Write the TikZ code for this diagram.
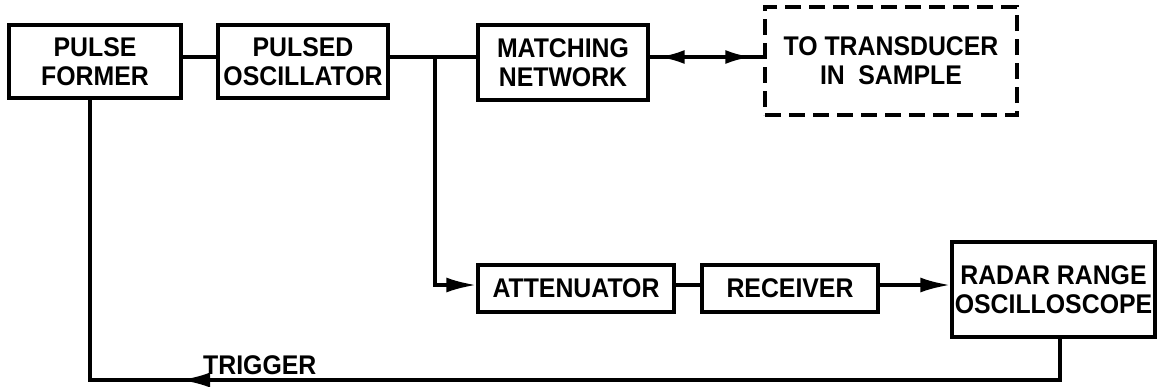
\documentclass[tikz,border=0pt]{standalone}
\usepackage{fontspec}
\setmainfont[FakeStretch=0.92]{Liberation Sans}
\usetikzlibrary{arrows.meta}
\tikzset{
  lbl/.style={font=\fontsize{27}{29}\selectfont\bfseries},
  blk/.style={draw, line width=3.4pt, inner sep=0pt, align=center, lbl},
  wire/.style={line width=3.4pt},
  tip/.style={-{Latex[length=30pt,width=15pt]}},
}
\begin{document}
\begin{tikzpicture}[x=1pt,y=-1pt]
\useasboundingbox (0,0) rectangle (1158,386);
% top row
\node[blk, minimum width=172pt, minimum height=73pt] (pf) at (95,61.5) {PULSE\\FORMER};
\node[blk, minimum width=170pt, minimum height=73pt] (po) at (303,61.5) {PULSED\\OSCILLATOR};
\node[blk, minimum width=170pt, minimum height=75pt] (mn) at (563,62.5) {MATCHING\\NETWORK};
\node[blk, dash pattern=on 16pt off 8pt, minimum width=252pt, minimum height=108pt] (td) at (891,61) {TO TRANSDUCER\\IN\enspace SAMPLE};
% bottom row
\node[blk, minimum width=196pt, minimum height=47pt] (at) at (576,288.5) {ATTENUATOR};
\node[blk, minimum width=176pt, minimum height=47pt] (rc) at (790,288.5) {RECEIVER};
\node[blk, minimum width=203pt, minimum height=95pt] (rr) at (1053.5,289.5) {RADAR RANGE\\OSCILLOSCOPE};
% routing levels
\coordinate (top) at (0,57);
\coordinate (low) at (0,285);
\coordinate (br) at (435,57);
\coordinate (fbR) at (1060,380);
\coordinate (fbL) at (90,380);
\coordinate (trig) at (180,380);
% connectors
\draw[wire] (pf.east |- top) -- (po.west |- top);
\draw[wire] (po.east |- top) -- (mn.west |- top);
\draw[wire] (mn.east |- top) -- (td.west |- top);
\draw[wire, {Latex[length=26pt,width=14pt]}-{Latex[length=26pt,width=14pt]}, shorten <=9pt, shorten >=12pt] (mn.east |- top) -- (td.west |- top);
\draw[wire, tip] (br) |- (at.west |- low);
\draw[wire] (at.east |- low) -- (rc.west |- low);
\draw[wire, tip] (rc.east |- low) -- (rr.west |- low);
\draw[wire] (rr.south -| fbR) -- (fbR) -- (fbL) -- (pf.south -| fbL);
\draw[wire, tip] (fbR) -- (trig);
\node[lbl, anchor=south west, inner sep=0pt] (trl) at (203,375) {TRIGGER};
\end{tikzpicture}
\end{document}
